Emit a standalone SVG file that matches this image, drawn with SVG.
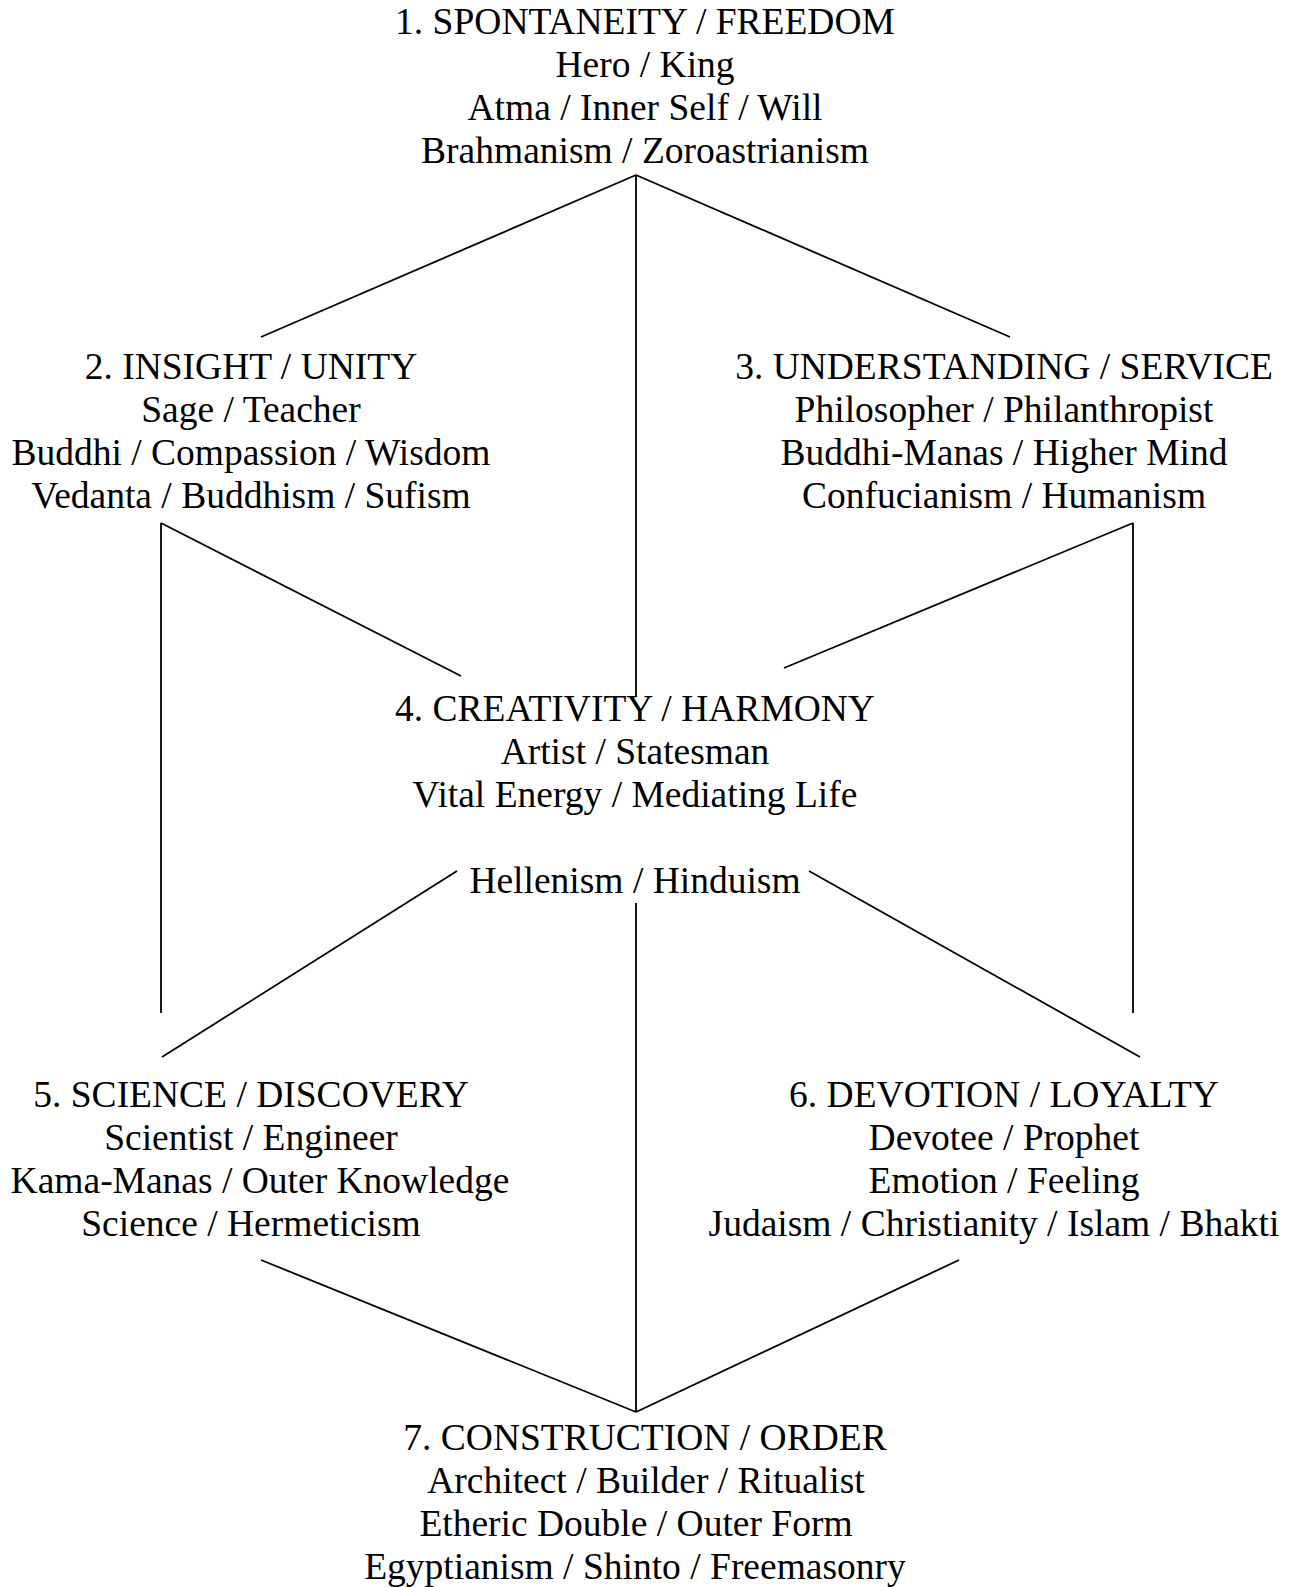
<svg xmlns="http://www.w3.org/2000/svg" width="1292" height="1587" viewBox="0 0 1292 1587">
<style>
text{font-family:"Liberation Serif","Times New Roman",serif;font-size:37.5px;fill:#000;text-anchor:middle}
.c line{stroke:#000;stroke-width:1.8;fill:none}
</style>
<rect width="1292" height="1587" fill="#fff"/>
<g id="connectors" class="c">
<line x1="636" y1="175" x2="261" y2="337"/>
<line x1="636" y1="175" x2="1010" y2="337"/>
<line x1="636" y1="175" x2="636" y2="697"/>
<line x1="161" y1="523" x2="161" y2="1013"/>
<line x1="161" y1="523" x2="461" y2="676"/>
<line x1="1133" y1="523" x2="1133" y2="1013"/>
<line x1="1133" y1="523" x2="784" y2="668"/>
<line x1="457" y1="871" x2="162" y2="1057"/>
<line x1="809" y1="871" x2="1140" y2="1057"/>
<line x1="636" y1="903" x2="636" y2="1412"/>
<line x1="261" y1="1260" x2="636" y2="1412"/>
<line x1="959" y1="1260" x2="636" y2="1412"/>
</g>
<g id="node1">
<text x="645" y="34">1. SPONTANEITY / FREEDOM</text>
<text x="645" y="77">Hero / King</text>
<text x="645" y="120">Atma / Inner Self / Will</text>
<text x="645" y="163">Brahmanism / Zoroastrianism</text>
</g>
<g id="node2">
<text x="251" y="379">2. INSIGHT / UNITY</text>
<text x="251" y="422">Sage / Teacher</text>
<text x="251" y="465">Buddhi / Compassion / Wisdom</text>
<text x="251" y="508">Vedanta / Buddhism / Sufism</text>
</g>
<g id="node3">
<text x="1004" y="379">3. UNDERSTANDING / SERVICE</text>
<text x="1004" y="422">Philosopher / Philanthropist</text>
<text x="1004" y="465">Buddhi-Manas / Higher Mind</text>
<text x="1004" y="508">Confucianism / Humanism</text>
</g>
<g id="node4">
<text x="635" y="721">4. CREATIVITY / HARMONY</text>
<text x="635" y="764">Artist / Statesman</text>
<text x="635" y="807">Vital Energy / Mediating Life</text>
<text x="635" y="893">Hellenism / Hinduism</text>
</g>
<g id="node5">
<text x="251" y="1107">5. SCIENCE / DISCOVERY</text>
<text x="251" y="1150">Scientist / Engineer</text>
<text x="260" y="1193">Kama-Manas / Outer Knowledge</text>
<text x="251" y="1236">Science / Hermeticism</text>
</g>
<g id="node6">
<text x="1004" y="1107">6. DEVOTION / LOYALTY</text>
<text x="1004" y="1150">Devotee / Prophet</text>
<text x="1004" y="1193">Emotion / Feeling</text>
<text x="994" y="1236">Judaism / Christianity / Islam / Bhakti</text>
</g>
<g id="node7">
<text x="645" y="1450">7. CONSTRUCTION / ORDER</text>
<text x="646" y="1493">Architect / Builder / Ritualist</text>
<text x="636" y="1536">Etheric Double / Outer Form</text>
<text x="635" y="1579">Egyptianism / Shinto / Freemasonry</text>
</g>
</svg>
